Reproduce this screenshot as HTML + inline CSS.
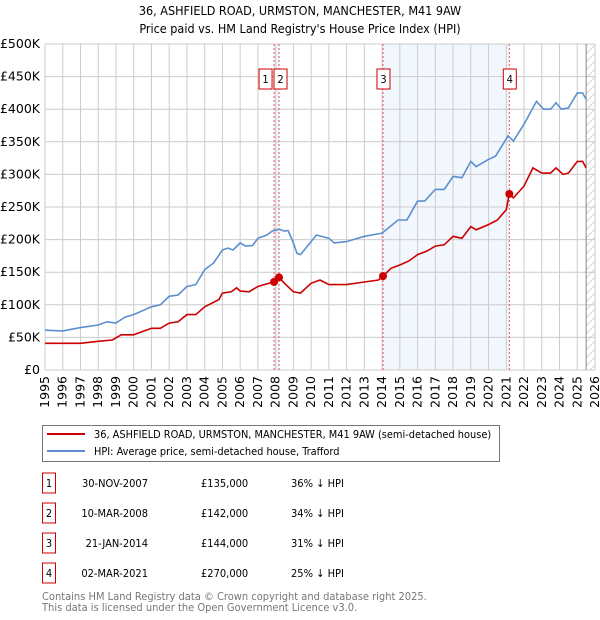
<!DOCTYPE html>
<html><head><meta charset="utf-8"><style>
body{margin:0;background:#fff;}
svg{display:block;font-family:"DejaVu Sans Condensed","DejaVu Sans","Liberation Sans",sans-serif;font-stretch:condensed;}
.tick{font-family:"DejaVu Sans","Liberation Sans",sans-serif;font-stretch:normal;}
</style></head><body>
<svg id="c" width="600" height="620" viewBox="0 0 600 620">
<text x="300" y="15" text-anchor="middle" font-size="12.5">36, ASHFIELD ROAD, URMSTON, MANCHESTER, M41 9AW</text>
<text x="300" y="33" text-anchor="middle" font-size="12.5">Price paid vs. HM Land Registry's House Price Index (HPI)</text>
<g id="plot"></g>
<g>
<rect x="42.5" y="425.5" width="457" height="36" fill="#fff" stroke="#777"/>
<line x1="47" y1="434" x2="85" y2="434" stroke="#cc0000" stroke-width="2"/>
<text x="94" y="438" font-size="10.9">36, ASHFIELD ROAD, URMSTON, MANCHESTER, M41 9AW (semi-detached house)</text>
<line x1="47" y1="451" x2="85" y2="451" stroke="#5b8fd0" stroke-width="2"/>
<text x="94" y="455" font-size="10.9">HPI: Average price, semi-detached house, Trafford</text>
</g>
<g id="table" font-size="11"></g>
<text x="42" y="600" font-size="11" fill="#777">Contains HM Land Registry data © Crown copyright and database right 2025.</text>
<text x="42" y="611" font-size="11" fill="#777">This data is licensed under the Open Government Licence v3.0.</text>
</svg>
<script>
const hpiYears=[1995,1996,1997,1998,1998.5,1999,1999.5,2000,2001,2001.5,2002,2002.5,2003,2003.5,2004,2004.5,2005,2005.3,2005.6,2006,2006.3,2006.7,2007,2007.5,2007.8,2008.2,2008.5,2008.7,2009,2009.2,2009.4,2010.3,2011,2011.3,2012,2013,2014,2014.9,2015.4,2016,2016.4,2017,2017.5,2018,2018.5,2019,2019.3,2020,2020.4,2021.1,2021.4,2022,2022.7,2023.1,2023.5,2023.8,2024.1,2024.5,2025,2025.3,2025.5];
const hpiValues=[61,60,65,69,74,72,81,85,97,100,113,115,128,131,154,164,184,187,184,195,190,191,202,207,213,216,213,214,195,179,177,207,202,195,197,205,210,230,230,259,259,277,277,297,295,320,312,323,328,359,351,377,412,400,400,410,400,402,425,425,415];
const priceYears=[1995,1997,1998,1998.8,1999.3,2000,2000.5,2001,2001.5,2002,2002.5,2003,2003.5,2004,2004.8,2005,2005.5,2005.8,2006,2006.5,2007,2007.5,2007.91,2008.19,2008.5,2009,2009.4,2010,2010.5,2011,2012,2013,2013.8,2014.05,2014.5,2015,2015.5,2016,2016.5,2017,2017.5,2018,2018.5,2019,2019.3,2020,2020.5,2021.0,2021.17,2021.4,2022,2022.5,2023,2023.5,2023.8,2024.2,2024.5,2025,2025.3,2025.5];
const priceValues=[41,41,44,46,54,54,59,64,64,72,74,85,85,97,108,118,120,126,121,120,128,132,135,142,133,120,118,133,138,131,131,135,138,144,156,161,167,177,182,190,192,205,202,220,215,223,230,246,270,264,282,310,302,302,310,300,302,320,320,310];
const saleLabels=["1","2","3","4"];
const saleYears=[2007.91,2008.19,2014.05,2021.17];
const salePrices=[135,142,144,270];
const saleDates=["30-NOV-2007","10-MAR-2008","21-JAN-2014","02-MAR-2021"];
const salePriceText=["£135,000","£142,000","£144,000","£270,000"];
const salePct=["36% ↓ HPI","34% ↓ HPI","31% ↓ HPI","25% ↓ HPI"];
const yTicks=[0,50,100,150,200,250,300,350,400,450,500];
const yTickLabels=["£0","£50K","£100K","£150K","£200K","£250K","£300K","£350K","£400K","£450K","£500K"];
const xTicks=[1995,1996,1997,1998,1999,2000,2001,2002,2003,2004,2005,2006,2007,2008,2009,2010,2011,2012,2013,2014,2015,2016,2017,2018,2019,2020,2021,2022,2023,2024,2025,2026];

const L=45,R=595,T=44,B=370;
const xs=y=>L+(y-1995)/(2026-1995)*(R-L);
const ys=v=>B-v/500*(B-T);
const NS="http://www.w3.org/2000/svg";
const plot=document.getElementById('plot');
function mk(tag,attrs,parent){const e=document.createElementNS(NS,tag);for(const k in attrs)e.setAttribute(k,attrs[k]);(parent||plot).appendChild(e);return e;}

let s=mk('rect',{x:xs(saleYears[0]),y:T,width:xs(saleYears[1])-xs(saleYears[0]),height:B-T,fill:'#eef3fc'});


s=mk('rect',{x:xs(saleYears[2]),y:T,width:xs(saleYears[3])-xs(saleYears[2]),height:B-T,fill:'#f2f6fd'});


const defs=mk('defs',{});
const pat=mk('pattern',{id:'hatch',width:8,height:8,patternUnits:'userSpaceOnUse'},defs);
mk('path',{d:'M0,8 L8,0',stroke:'#ccc','stroke-width':0.8},pat);
s=mk('rect',{x:xs(2025.5),y:T,width:R-xs(2025.5),height:B-T,fill:'url(#hatch)'});



yTicks.forEach((v,i)=>{
 const g=mk('line',{x1:L,x2:R,y1:ys(v),y2:ys(v),stroke:'#ccc','stroke-width':1});
 
 
 const t=mk('text',{x:L-5,y:ys(v)+4,'text-anchor':'end','font-size':12.5,'class':'tick'});
 t.textContent=yTickLabels[i];
 
 
});
xTicks.forEach(y=>{
 const g=mk('line',{x1:xs(y),x2:xs(y),y1:T,y2:B,stroke:'#ccc','stroke-width':1});
 
 
 const t=mk('text',{x:0,y:0,'text-anchor':'end','font-size':12.5,'class':'tick',transform:`translate(${xs(y)+4},${B+6}) rotate(-90)`});
 t.textContent=y;
 
 
});
const ed=mk('line',{x1:xs(2025.5),x2:xs(2025.5),y1:T,y2:B,stroke:'#888','stroke-width':1});



saleYears.forEach((y,i)=>{
 const l=mk('line',{x1:xs(y),x2:xs(y),y1:T,y2:B,stroke:'#ee5555','stroke-width':1,'stroke-dasharray':'2,2'});
 
 
 const bx=xs(y)-(i===0?15:i===1?5:6);
 const r=mk('rect',{x:bx,y:69,width:13,height:20,fill:'#fff',stroke:'#cc0000','stroke-width':1});
 
 
 const t=mk('text',{x:bx+6.5,y:83,'text-anchor':'middle','font-size':11});
 t.textContent=saleLabels[i];
 
 
});

const pts=(xa,va)=>xa.map((x,i)=>xs(x).toFixed(1)+','+ys(va[i]).toFixed(1)).join(' ');
let p=mk('polyline',{points:pts(hpiYears,hpiValues),fill:'none',stroke:'#5b8fd0','stroke-width':1.6});


p=mk('polyline',{points:pts(priceYears,priceValues),fill:'none',stroke:'#cc0000','stroke-width':1.6});


saleYears.forEach((y,i)=>{
 const c=mk('circle',{cx:xs(y),cy:ys(salePrices[i]),r:4,fill:'#cc0000'});
 
 
});

const tb=document.getElementById('table');
saleDates.forEach((d,i)=>{
 const cy=483+i*30;
 const r=mk('rect',{x:42.5,y:cy-10,width:13,height:20,fill:'#fff',stroke:'#cc0000'},tb);
 
 
 let t=mk('text',{x:49,y:cy+4,'text-anchor':'middle'},tb);t.textContent=saleLabels[i];
 
 
 t=mk('text',{x:148,y:cy+4,'text-anchor':'end'},tb);t.textContent=d;
 
 
 t=mk('text',{x:201,y:cy+4},tb);t.textContent=salePriceText[i];
 
 
 t=mk('text',{x:291,y:cy+4},tb);t.textContent=salePct[i];
 
 
});
</script>
</body></html>
